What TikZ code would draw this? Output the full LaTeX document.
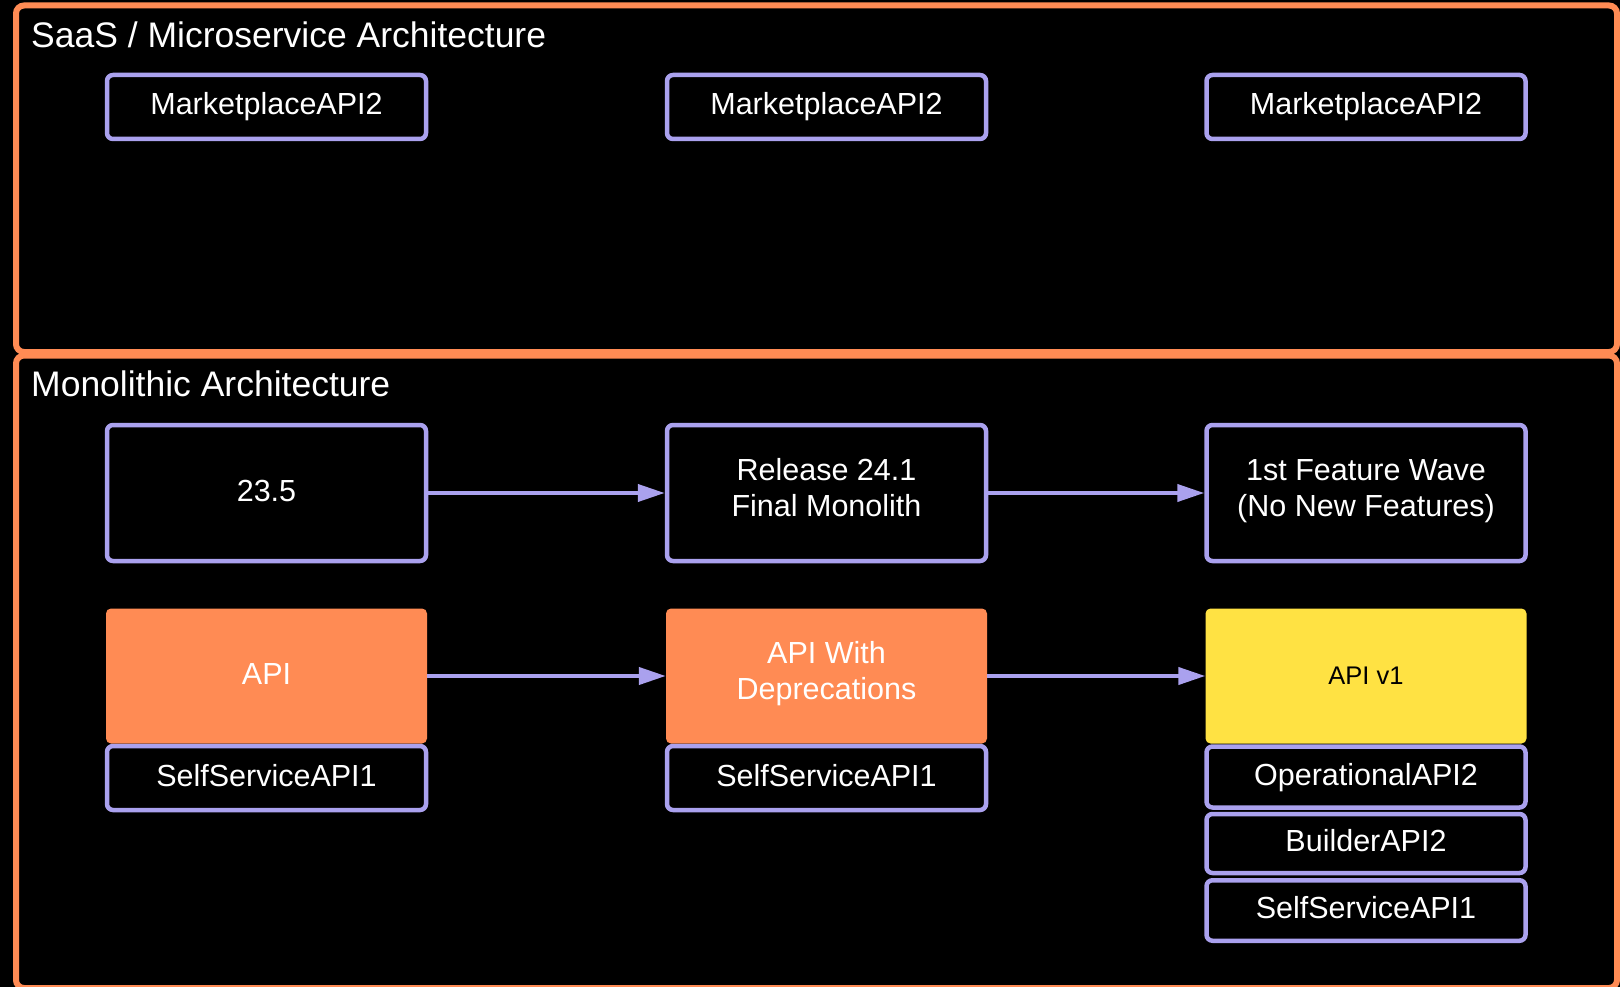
\documentclass[tikz,border=0pt]{standalone}
\usepackage{fontspec}
\setmainfont{Liberation Sans}
\usetikzlibrary{arrows.meta}

\definecolor{frameorange}{RGB}{255,139,84}
\definecolor{boxpurple}{RGB}{170,161,238}
\definecolor{apiyellow}{RGB}{255,226,67}

\tikzset{
  frame/.style={draw=frameorange, line width=6pt, rounded corners=8pt},
  frametitle/.style={anchor=base west, inner sep=0pt, text=white,
    font=\fontsize{35.5}{42}\selectfont},
  boxfont/.style={font=\fontsize{30.5}{36}\selectfont, align=center,
    text height=22pt, text depth=6pt},
  twolines/.style={text height=58pt, text depth=10.5pt},
  outlinebox/.style={draw=boxpurple, line width=4.5pt, fill=black,
    rounded corners=6pt, minimum width=319pt, inner sep=0pt,
    text=white, boxfont},
  fillbox/.style={rounded corners=5pt, minimum width=321pt,
    minimum height=135pt, inner sep=0pt, boxfont},
  flow/.style={draw=boxpurple, line width=4pt,
    -{Triangle[length=27pt,width=17pt]}},
}

\begin{document}
\begin{tikzpicture}[x=1pt, y=-1pt]
  \useasboundingbox (0,0) rectangle (1620,987);
  \fill[black] (0,0) rectangle (1620,987);

  % two architecture frames
  \draw[frame] (16,5.5) rectangle (1617,352);
  \draw[frame] (16,355.5) rectangle (1617,988);
  \node[frametitle] (saastitle) at (31,48) {SaaS / Microservice Architecture};
  \node[frametitle] (monotitle) at (31,396) {Monolithic Architecture};

  % microservice row
  \node[outlinebox, minimum height=64pt] (m1) at (266.5,107) {MarketplaceAPI2};
  \node[outlinebox, minimum height=64pt] (m2) at (826.5,107) {MarketplaceAPI2};
  \node[outlinebox, minimum height=64pt] (m3) at (1366,107) {MarketplaceAPI2};

  % releases
  \node[outlinebox, minimum height=136pt] (r1) at (266.5,493) {23.5};
  \node[outlinebox, twolines, minimum height=136pt] (r2) at (826.5,493) {Release 24.1\\Final Monolith};
  \node[outlinebox, twolines, minimum height=136pt] (r3) at (1366,493) {1st Feature Wave\\(No New Features)};

  % API generations
  \node[fillbox, fill=frameorange, text=white] (a1) at (266.5,676) {API};
  \node[fillbox, twolines, fill=frameorange, text=white] (a2) at (826.5,676) {API With\\Deprecations};
  \node[fillbox, fill=apiyellow, text=black, font=\fontsize{25.5}{30}\selectfont,
        text height=20pt, text depth=4pt] (a3) at (1366,676) {API v1};

  % API modules
  \node[outlinebox, minimum height=64pt] (s1) at (266.5,778) {SelfServiceAPI1};
  \node[outlinebox, minimum height=64pt] (s2) at (826.5,778) {SelfServiceAPI1};
  \node[outlinebox, minimum height=61pt] (o3) at (1366,777) {OperationalAPI2};
  \node[outlinebox, minimum height=59pt] (b3) at (1366,843.5) {BuilderAPI2};
  \node[outlinebox, minimum height=60.5pt] (s3) at (1366,910.5) {SelfServiceAPI1};

  % progression arrows
  \draw[flow] (r1.east) -- (r2.west);
  \draw[flow] (r2.east) -- (r3.west);
  \draw[flow] (a1.east) -- (a2.west);
  \draw[flow] (a2.east) -- (a3.west);
\end{tikzpicture}
\end{document}
